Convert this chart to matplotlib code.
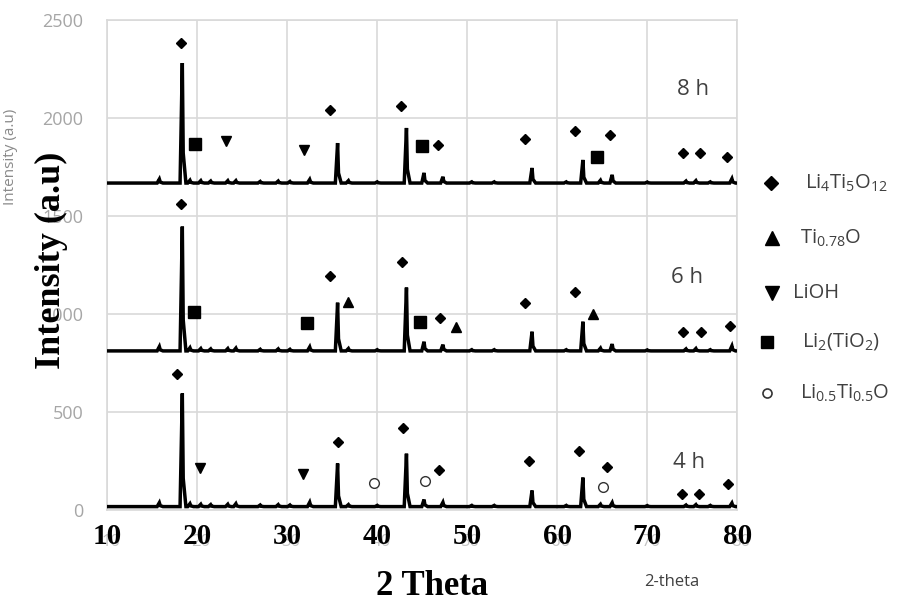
import matplotlib
matplotlib.use("Agg")
import matplotlib.pyplot as plt
from matplotlib.lines import Line2D

plt.rcParams['font.family'] = 'Open Sans'

# peak positions (2 theta) shared by the three patterns
peak_pos = [15.8, 18.35, 19.2, 20.4, 21.5, 23.4, 24.3, 27.0, 29.0, 30.3, 32.5,
            35.6, 36.8, 40.0, 43.25, 45.2, 47.3, 50.5, 53.0, 57.2, 61.0,
            62.85, 64.8, 66.1, 70.0, 74.3, 75.4, 77.0, 79.4]

# peak heights above baseline for each milling time
h_4h = [20, 577, 15, 12, 10, 12, 15, 8, 10, 8, 22, 220, 10, 6, 270, 36, 22,
        6, 6, 82, 6, 148, 12, 20, 5, 8, 10, 6, 18]
h_6h = [22, 634, 16, 12, 10, 12, 14, 8, 10, 8, 20, 246, 12, 6, 323, 47, 32,
        6, 6, 98, 6, 149, 14, 35, 5, 10, 12, 6, 25]
h_8h = [20, 612, 14, 12, 10, 12, 12, 8, 10, 8, 18, 204, 12, 6, 281, 52, 32,
        6, 6, 77, 6, 118, 14, 42, 5, 10, 12, 6, 22]
base_4h, base_6h, base_8h = 18, 812, 1668

# phase markers (2 theta, intensity)
lto_pts = [(18.2, 2383), (34.8, 2041), (42.6, 2061), (46.8, 1862), (56.4, 1893),
           (62.0, 1934), (65.9, 1913), (74.0, 1821), (75.9, 1821), (78.9, 1801),
           (18.2, 1561), (34.8, 1194), (42.8, 1265), (47.0, 980), (56.4, 1056),
           (62.0, 1112), (74.0, 908), (76.0, 908), (79.2, 939),
           (17.8, 694), (35.6, 347), (42.9, 418), (46.9, 204), (56.9, 250),
           (62.4, 301), (65.5, 219), (73.9, 82), (75.8, 82), (79.0, 133)]
tio_pts = [(36.7, 1061), (48.8, 934), (64.0, 1000)]
lioh_pts = [(23.2, 1883), (31.9, 1837), (20.3, 214), (31.8, 184)]
li2tio2_pts = [(19.8, 1867), (45.0, 1857), (64.4, 1801),
               (19.6, 1010), (32.2, 954), (44.8, 959)]
liti_pts = [(39.6, 138), (45.3, 148), (65.1, 117)]

time_labels = ['8 h', '6 h', '4 h']
time_label_pos = [(75.1, 2143), (74.4, 1184), (74.6, 245)]

legend_labels = [r'$\mathregular{Li_4Ti_5O_{12}}$', r'$\mathregular{Ti_{0.78}O}$', 'LiOH',
                 r'$\mathregular{Li_2(TiO_2)}$', r'$\mathregular{Li_{0.5}Ti_{0.5}O}$']


def trace(base, pos, hts):
    xs = [10]
    ys = [base]
    for p, h in zip(pos, hts):
        xs += [p - 0.25, p, p + 0.1, p + 0.4]
        ys += [base, base + h, base + 0.25 * h, base]
    xs.append(80)
    ys.append(base)
    return xs, ys


fig = plt.figure(figsize=(9.08, 6.03), dpi=100)
ax = fig.add_axes([0.118, 0.154, 0.694, 0.813])

for b, h in [(base_4h, h_4h), (base_6h, h_6h), (base_8h, h_8h)]:
    xs, ys = trace(b, peak_pos, h)
    ax.plot(xs, ys, color='black', lw=2.5, zorder=3, solid_joinstyle='miter')

mk = dict(color='black', linestyle='none', zorder=4, clip_on=False)
ax.plot(*zip(*lto_pts), marker='D', ms=5, **mk)
ax.plot(*zip(*tio_pts), marker='^', ms=7, **mk)
ax.plot(*zip(*lioh_pts), marker='v', ms=7, **mk)
ax.plot(*zip(*li2tio2_pts), marker='s', ms=8.5, **mk)
ax.plot(*zip(*liti_pts), marker='o', ms=7, mfc='white', mec='#333333', mew=1,
        linestyle='none', zorder=4)

for t, (x, y) in zip(time_labels, time_label_pos):
    ax.text(x, y, t, fontsize=16, color='#404040', ha='center', va='center')

ax.set_xlim(10, 80)
ax.set_ylim(0, 2500)
ax.set_xticks(range(10, 81, 10))
ax.set_yticks(range(0, 2501, 500))
ax.grid(True, color='#d9d9d9', lw=1.2, zorder=0)
ax.set_axisbelow(True)
for s in ax.spines.values():
    s.set_color('#d9d9d9')
    s.set_linewidth(1.2)
ax.tick_params(length=0)
ax.tick_params(axis='y', pad=17, labelsize=13, labelcolor='#a6a6a6')
ax.tick_params(axis='x', pad=9)
for lbl in ax.get_xticklabels():
    lbl.set_fontfamily('Liberation Serif')
    lbl.set_fontweight('bold')
    lbl.set_fontsize(21)
    lbl.set_color('black')

# faint grey labels left underneath
for v in range(10, 81, 10):
    ax.text(v + 0.4, -160, str(v), fontsize=12, color='#c4c4c4', ha='center',
            va='center', zorder=0)

fig.text(0.057, 0.569, 'Intensity (a.u)', rotation=90, ha='center', va='center',
         fontfamily='Liberation Serif', fontweight='bold', fontsize=26)
fig.text(0.012, 0.74, 'Intensity (a.u)', rotation=90, ha='center', va='center',
         fontsize=11, color='#8a8a8a')
fig.text(0.476, 0.028, '2 Theta', ha='center', va='center',
         fontfamily='Liberation Serif', fontweight='bold', fontsize=25)
fig.text(0.740, 0.035, '2-theta', ha='center', va='center', fontsize=12,
         color='#404040')

# legend drawn by hand at the right
leg_marker = [('D', 7.5, 771, 183), ('^', 10, 772, 238), ('v', 10, 772, 293),
              ('s', 8, 767, 342), ('o', 6.5, 767, 393)]
leg_text_x = [805, 800, 793, 802, 800]
for (m, ms, mx, my), tx, lab in zip(leg_marker, leg_text_x, legend_labels):
    fx, fy = mx / 908, 1 - my / 603
    if m == 'o':
        fig.add_artist(Line2D([fx], [fy], marker=m, ms=ms, mfc='white', mec='#333333',
                              mew=1.2, linestyle='none', transform=fig.transFigure))
    else:
        fig.add_artist(Line2D([fx], [fy], marker=m, ms=ms, color='black',
                              linestyle='none', transform=fig.transFigure))
    fig.text(tx / 908, fy, lab, ha='left', va='center', fontsize=14.5, color='#404040')

fig.savefig('out.png', dpi=100)
